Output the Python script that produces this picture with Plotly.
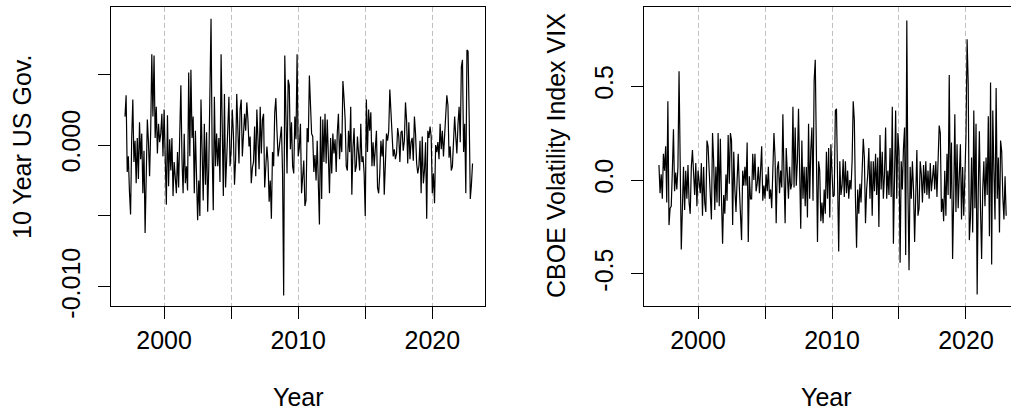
import pandas as pd
import plotly.graph_objects as go

# Monthly observations, Feb 1997 .. Jan 2023
months = pd.date_range("1997-02-01", "2023-01-01", freq="MS")
year_frac = [d.year + (d.month - 1) / 12 for d in months]

gov10 = [
    0.0020, 0.0035, -0.0019, -0.0008, -0.0033, -0.0049, 0.0005, 0.0032, -0.0012, 0.0003, -0.0027,
    0.0005, -0.0024, 0.0016, -0.0010, 0.0008, -0.0034, -0.0004, -0.0062, -0.0021, 0.0018, 0.0002, -0.0022,
    0.0010, 0.0064, 0.0020, 0.0063, 0.0005, 0.0027, -0.0006, 0.0015, 0.0002, 0.0008, 0.0022, -0.0008,
    0.0025, -0.0010, -0.0042, 0.0021, -0.0029, 0.0004, -0.0018, 0.0005, -0.0036, -0.0012, -0.0025, -0.0034,
    -0.0005, -0.0030, 0.0008, 0.0042, -0.0010, -0.0034, 0.0008, -0.0027, -0.0015, -0.0032, 0.0051, -0.0008,
    0.0053, 0.0005, 0.0020, -0.0034, 0.0010, -0.0015, -0.0053, -0.0025, -0.0050, 0.0032, -0.0002, -0.0039,
    0.0015, -0.0028, 0.0009, -0.0047, -0.0015, 0.0052, 0.0089, -0.0005, -0.0046, 0.0034, -0.0015, 0.0008,
    -0.0015, 0.0005, -0.0026, 0.0064, 0.0015, -0.0036, 0.0036, -0.0030, -0.0010, 0.0008, 0.0034, -0.0015,
    -0.0004, 0.0025, 0.0008, -0.0028, -0.0010, 0.0036, 0.0015, -0.0013, 0.0025, 0.0032, -0.0008, 0.0012,
    0.0022, 0.0010, 0.0030, 0.0018, -0.0001, 0.0006, -0.0027, -0.0016, -0.0012, 0.0013, -0.0022, 0.0025,
    0.0008, -0.0017, 0.0027, -0.0006, 0.0018, 0.0022, -0.0030, -0.0014, -0.0001, -0.0012, -0.0040, -0.0025,
    -0.0052, -0.0005, -0.0015, 0.0023, 0.0033, 0.0010, -0.0008, -0.0002, 0.0005, 0.0013, -0.0020, -0.0106,
    0.0063, 0.0015, -0.0020, 0.0046, 0.0042, -0.0003, 0.0016, -0.0015, -0.0020, 0.0020, 0.0004, 0.0064,
    -0.0008, -0.0002, 0.0015, -0.0034, -0.0024, -0.0011, -0.0043, -0.0039, 0.0012, 0.0002, 0.0049, 0.0030,
    0.0008, 0.0006, -0.0019, -0.0007, -0.0025, 0.0003, -0.0034, -0.0056, 0.0020, -0.0038, 0.0018, -0.0012,
    0.0022, -0.0013, 0.0018, -0.0020, -0.0034, 0.0005, -0.0020, 0.0008, -0.0006, 0.0004, -0.0019, 0.0009,
    0.0022, -0.0010, 0.0008, -0.0005, 0.0045, 0.0033, 0.0018, -0.0015, -0.0018, 0.0010, -0.0005, 0.0027,
    -0.0035, -0.0002, 0.0012, -0.0019, -0.0015, 0.0006, -0.0004, -0.0018, 0.0015, -0.0012, -0.0008, -0.0020,
    -0.0050, 0.0032, -0.0005, 0.0025, 0.0010, 0.0023, -0.0015, 0.0002, -0.0015, -0.0003, 0.0010, -0.0030,
    -0.0034, -0.0020, 0.0003, -0.0008, 0.0004, -0.0035, -0.0010, 0.0008, 0.0003, 0.0010, 0.0039, 0.0025,
    0.0002, -0.0008, -0.0003, -0.0010, -0.0006, 0.0012, 0.0006, -0.0012, 0.0009, 0.0010, -0.0004, 0.0003,
    0.0030, 0.0017, -0.0013, 0.0016, -0.0010, 0.0002, 0.0005, -0.0011, 0.0020, 0.0008, -0.0013, -0.0020,
    -0.0015, 0.0003, -0.0034, 0.0006, -0.0027, -0.0018, 0.0002, -0.0052, 0.0010, 0.0005, 0.0013, 0.0006,
    -0.0034, -0.0020, -0.0041, 0.0000, -0.0005, 0.0002, -0.0010, 0.0015, -0.0003, 0.0010, -0.0008, 0.0007,
    0.0015, 0.0035, 0.0028, -0.0009, -0.0001, -0.0018, -0.0015, 0.0000, 0.0020, 0.0006, -0.0006, 0.0015,
    0.0027, 0.0002, 0.0055, 0.0060, -0.0005, 0.0015, -0.0034, 0.0067, 0.0066, 0.0020, -0.0038, -0.0028,
    -0.0013,
]

vix = [
    0.08, -0.07, 0.03, -0.10, 0.14, 0.05, 0.18, -0.12, 0.42, -0.24, -0.15,
    -0.14, 0.05, 0.27, -0.06, 0.04, -0.05, 0.07, 0.58, 0.12, -0.37, -0.15, 0.07,
    -0.16, 0.05, -0.10, 0.08, -0.12, -0.18, 0.07, 0.16, 0.04, -0.08, 0.09, -0.14,
    0.05, -0.02, -0.07, 0.09, -0.19, 0.07, -0.12, -0.17, 0.21, 0.18, 0.06, -0.05,
    -0.21, 0.25, 0.10, -0.16, 0.07, -0.12, 0.25, -0.14, 0.22, -0.10, -0.34, -0.08,
    -0.18, 0.03, -0.11, 0.24, -0.02, 0.25, 0.21, -0.24, 0.15, -0.05, -0.17, 0.00,
    0.14, -0.04, -0.19, -0.32, 0.05, -0.03, 0.07, -0.03, 0.20, -0.33, 0.02, -0.10,
    -0.10, 0.14, 0.00, 0.14, -0.06, -0.02, 0.07, -0.07, 0.05, 0.18, -0.11, -0.03,
    -0.10, 0.03, -0.06, 0.07, -0.10, -0.05, -0.15, 0.08, 0.25, 0.12, -0.23, 0.06,
    0.10, -0.07, 0.05, -0.04, 0.35, 0.02, -0.23, 0.17, -0.03, -0.10, 0.07, -0.05,
    -0.02, 0.39, -0.04, 0.28, -0.03, 0.10, 0.38, 0.05, -0.26, 0.21, -0.10, 0.07,
    -0.14, 0.07, -0.20, 0.30, -0.10, 0.16, 0.28, -0.11, 0.53, 0.64, 0.12, -0.33,
    0.10, 0.05, -0.22, -0.12, -0.23, -0.05, -0.18, 0.15, -0.10, 0.17, -0.20, 0.19,
    0.04, -0.09, -0.08, 0.37, 0.38, -0.05, -0.38, 0.10, -0.08, -0.03, 0.11, -0.09,
    0.10, -0.07, 0.05, -0.10, 0.00, -0.05, 0.10, 0.42, 0.32, -0.10, -0.36, -0.05,
    -0.18, -0.02, -0.12, 0.05, 0.22, 0.12, -0.23, -0.05, 0.03, 0.17, -0.10, 0.10,
    -0.19, 0.10, -0.06, 0.14, -0.08, 0.12, -0.25, 0.24, -0.05, 0.15, -0.10, 0.03,
    0.28, -0.10, 0.05, -0.08, 0.17, -0.09, 0.39, -0.34, 0.10, 0.37, -0.10, 0.25,
    0.15, -0.44, 0.10, -0.05, 0.17, 0.28, -0.40, 0.85, -0.05, -0.48, 0.07, -0.10,
    0.10, -0.05, -0.33, -0.10, 0.16, -0.19, -0.15, 0.10, 0.03, -0.12, 0.08, -0.07,
    0.10, -0.08, 0.05, -0.10, 0.09, -0.06, 0.04, 0.08, -0.05, 0.10, -0.09, 0.06,
    0.29, 0.25, -0.17, -0.10, -0.22, 0.05, -0.19, 0.14, -0.08, 0.56, -0.10, 0.20,
    -0.42, -0.10, 0.35, -0.17, 0.19, -0.15, 0.10, 0.19, -0.21, 0.07, -0.19, 0.05,
    0.23, 0.75, 0.51, -0.32, -0.20, 0.12, -0.28, 0.37, -0.15, 0.30, -0.61, -0.05,
    0.26, -0.15, -0.42, -0.05, 0.10, -0.14, 0.12, -0.08, 0.34, -0.30, 0.52, -0.45,
    0.37, 0.05, -0.21, 0.49, -0.10, 0.12, -0.28, 0.21, 0.15, -0.09, -0.21, 0.02,
    -0.19,
]

x_tickvals = [2000, 2005, 2010, 2015, 2020]
x_ticktext = ["2000", "", "2010", "", "2020"]
gov_tickvals = [-0.010, -0.005, 0.000, 0.005]
gov_ticktext = ["-0.010", "", "0.000", ""]
vix_tickvals = [-0.5, 0.0, 0.5]
vix_ticktext = ["-0.5", "0.0", "0.5"]

W, H = 1011, 410
FONT = "Liberation Sans, Arial, sans-serif"
FS = 25

fig = go.Figure()
fig.add_trace(go.Scatter(x=year_frac, y=gov10, mode="lines",
                         line=dict(color="black", width=1.2), xaxis="x", yaxis="y",
                         showlegend=False, hoverinfo="skip"))
fig.add_trace(go.Scatter(x=year_frac, y=vix, mode="lines",
                         line=dict(color="black", width=1.2), xaxis="x2", yaxis="y2",
                         showlegend=False, hoverinfo="skip"))

ydom = [(H - 306) / H, (H - 7) / H]
xcommon = dict(tickmode="array", tickvals=x_tickvals, ticktext=x_ticktext,
               ticks="outside", ticklen=12, tickwidth=1, tickcolor="black",
               showline=True, linecolor="black", linewidth=1, mirror=True,
               showgrid=True, gridcolor="#C0C0C0", gridwidth=1, griddash="5px,3px",
               zeroline=False, tickfont=dict(family=FONT, size=FS, color="black"),
               ticklabelstandoff=0, automargin=False)
ycommon = dict(tickmode="array", ticks="outside", ticklen=12, tickwidth=1, tickcolor="black",
               showline=True, linecolor="black", linewidth=1,
               showgrid=False, zeroline=False, tickangle=-90,
               tickfont=dict(family=FONT, size=FS, color="black"),
               ticklabelstandoff=8, automargin=False)

fig.update_layout(
    width=W, height=H, margin=dict(l=0, r=0, t=0, b=0, autoexpand=False),
    paper_bgcolor="white", plot_bgcolor="white",
    xaxis=dict(domain=[111 / W, 485 / W], range=[1996.04, 2023.93], anchor="y", **xcommon),
    yaxis=dict(domain=ydom, range=[-0.01134, 0.00972], anchor="x",
               tickvals=gov_tickvals, ticktext=gov_ticktext, mirror=True, **ycommon),
    xaxis2=dict(domain=[644.3 / W, 1.0], range=[1995.99, 2023.36], anchor="y2", **xcommon),
    yaxis2=dict(domain=ydom, range=[-0.671, 0.9217], anchor="x2",
                tickvals=vix_tickvals, ticktext=vix_ticktext, mirror=False, **ycommon),
    annotations=[
        dict(text="Year", x=298 / W, y=1 - 397 / H, xref="paper", yref="paper",
             showarrow=False, xanchor="center", yanchor="middle",
             font=dict(family=FONT, size=FS, color="black")),
        dict(text="Year", x=826 / W, y=1 - 397 / H, xref="paper", yref="paper",
             showarrow=False, xanchor="center", yanchor="middle",
             font=dict(family=FONT, size=FS, color="black")),
        dict(text="10 Year US Gov.", x=22 / W, y=1 - 147 / H, xref="paper", yref="paper",
             showarrow=False, xanchor="center", yanchor="middle", textangle=-90,
             font=dict(family=FONT, size=FS, color="black")),
        dict(text="CBOE Volatility Index VIX", x=556 / W, y=1 - 156 / H, xref="paper", yref="paper",
             showarrow=False, xanchor="center", yanchor="middle", textangle=-90,
             font=dict(family=FONT, size=FS, color="black")),
    ],
)

fig.write_html("out.html", config={"displayModeBar": False, "staticPlot": True},
               post_script="document.body.style.margin='0';document.body.style.overflow='hidden';")
